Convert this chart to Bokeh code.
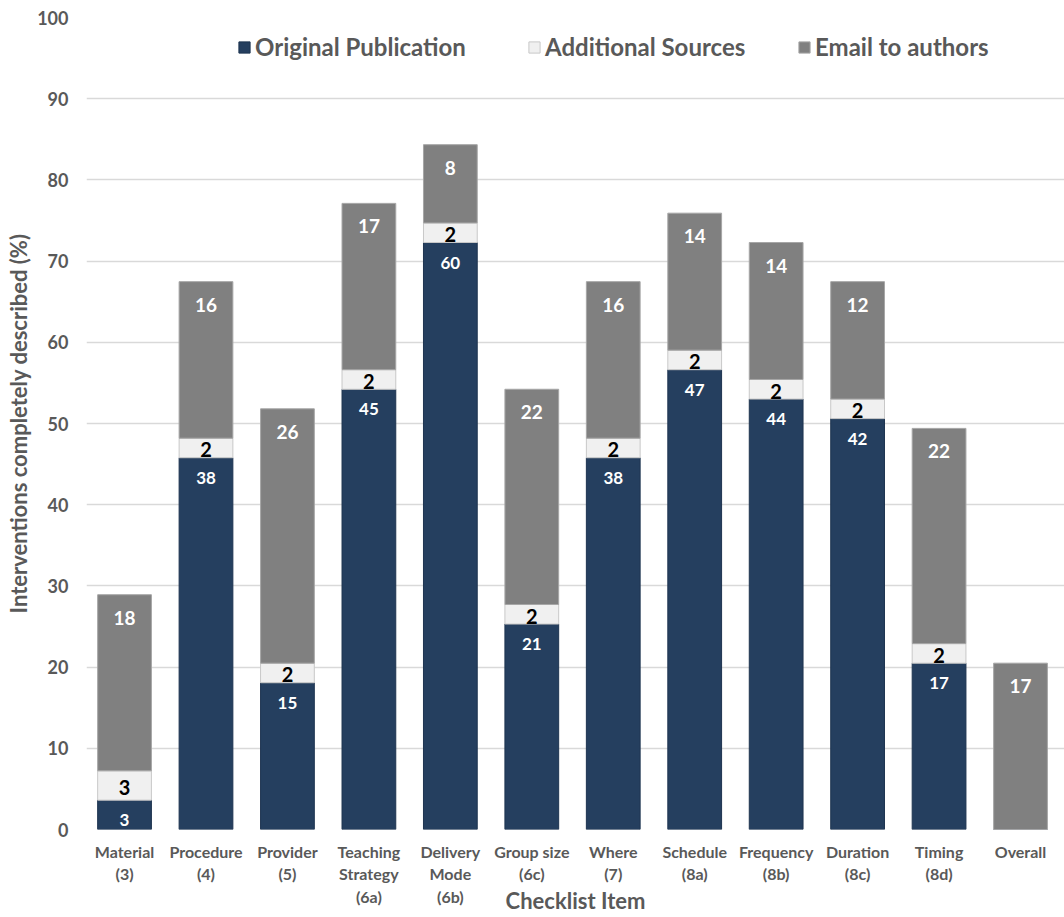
import numpy as np
from bokeh.plotting import figure
from bokeh.models import ColumnDataSource, Range1d, FixedTicker, Legend, LegendItem
from bokeh.core.properties import value
from bokeh.embed import file_html
from bokeh.resources import INLINE

# Checklist items (TIDieR) and number of interventions completely described
categories = ["Material\n(3)", "Procedure\n(4)", "Provider\n(5)", "Teaching\nStrategy\n(6a)",
              "Delivery\nMode\n(6b)", "Group size\n(6c)", "Where\n(7)", "Schedule\n(8a)",
              "Frequency\n(8b)", "Duration\n(8c)", "Timing\n(8d)", "Overall"]
original_publication = [3, 38, 15, 45, 60, 21, 38, 47, 44, 42, 17, 0]
additional_sources = [3, 2, 2, 2, 2, 2, 2, 2, 2, 2, 2, 0]
email_to_authors = [18, 16, 26, 17, 8, 22, 16, 14, 14, 12, 22, 17]
n_interventions = 83
y_ticks = [0, 10, 20, 30, 40, 50, 60, 70, 80, 90, 100]

FONT = "Lato"
TEXT_GREY = "#595959"
NAVY = "#253F5F"
LIGHT = "#F0F0F0"
GREY = "#808080"

x = np.arange(len(categories))
orig = np.array(original_publication, dtype=float)
addl = np.array(additional_sources, dtype=float)
mail = np.array(email_to_authors, dtype=float)

pct = 100.0 / n_interventions
b0 = np.zeros_like(orig)
t0 = orig * pct
t1 = t0 + addl * pct
t2 = t1 + mail * pct

src = ColumnDataSource(dict(x=x, b0=b0, t0=t0, t1=t1, t2=t2,
                            mid1=(t0 + t1) / 2,
                            orig=[str(int(v)) if v else "" for v in orig],
                            addl=[str(int(v)) if v else "" for v in addl],
                            mail=[str(int(v)) if v else "" for v in mail]))

p = figure(width=1064, height=917, output_backend="svg", toolbar_location=None,
           x_range=Range1d(-0.467, 11.54), y_range=Range1d(0, 100),
           min_border_left=86, min_border_right=0, min_border_top=17,
           min_border_bottom=88)
p.outline_line_color = None
p.background_fill_color = "white"
p.border_fill_color = "white"

bw = 0.66
r_orig = p.vbar(x="x", bottom="b0", top="t0", width=bw, source=src,
                fill_color=NAVY, line_color="#1E3450", line_width=1)
r_addl = p.vbar(x="x", bottom="t0", top="t1", width=bw, source=src,
                fill_color=LIGHT, line_color="#C8C8C8", line_width=1)
r_mail = p.vbar(x="x", bottom="t1", top="t2", width=bw, source=src,
                fill_color=GREY, line_color="#A6A6A6", line_width=1)

# segment value labels
p.text(x="x", y="t0", text="orig", source=src, text_align="center",
       text_baseline="middle", y_offset=20, text_color="white",
       text_font=value(FONT), text_font_style="bold", text_font_size="17px")
p.text(x="x", y="mid1", text="addl", source=src, text_align="center",
       text_baseline="middle", y_offset=2, text_color="black",
       text_font=value(FONT), text_font_style="bold", text_font_size="20px")
p.text(x="x", y="t2", text="mail", source=src, text_align="center",
       text_baseline="middle", y_offset=23, text_color="white",
       text_font=value(FONT), text_font_style="bold", text_font_size="19px")

# x axis: multi-line checklist labels, title tucked up beside the last row
p.xaxis.ticker = FixedTicker(ticks=list(x))
p.xaxis.major_label_overrides = {int(i): c for i, c in zip(x, categories)}
p.xaxis.major_label_text_font = FONT
p.xaxis.major_label_text_font_style = "bold"
p.xaxis.major_label_text_font_size = "16px"
p.xaxis.major_label_text_color = TEXT_GREY
p.xaxis.major_label_text_line_height = 1.2
p.xaxis.axis_line_color = None
p.xaxis.major_tick_line_color = None
p.xaxis.minor_tick_line_color = None
p.xaxis.major_tick_out = 0
p.xaxis.major_label_standoff = 12
p.xaxis.axis_label = "Checklist Item"
p.xaxis.axis_label_text_font = FONT
p.xaxis.axis_label_text_font_style = "bold"
p.xaxis.axis_label_text_font_size = "22px"
p.xaxis.axis_label_text_color = TEXT_GREY
p.xaxis.axis_label_standoff = -22

p.yaxis.ticker = FixedTicker(ticks=y_ticks)
p.yaxis.major_label_text_font = FONT
p.yaxis.major_label_text_font_style = "bold"
p.yaxis.major_label_text_font_size = "18px"
p.yaxis.major_label_text_color = TEXT_GREY
p.yaxis.axis_line_color = None
p.yaxis.major_tick_line_color = None
p.yaxis.minor_tick_line_color = None
p.yaxis.major_tick_out = 0
p.yaxis.major_label_standoff = 18
p.yaxis.axis_label = "Interventions completely described (%)"
p.yaxis.axis_label_text_font = FONT
p.yaxis.axis_label_text_font_style = "bold"
p.yaxis.axis_label_text_font_size = "22px"
p.yaxis.axis_label_text_color = TEXT_GREY
p.yaxis.axis_label_standoff = 2

p.xgrid.grid_line_color = None
p.ygrid.grid_line_color = "#D9D9D9"
p.ygrid.grid_line_width = 1.5

# legend, one entry per box so each can be placed along the top
def add_legend(label, renderer, xpos):
    lg = Legend(items=[LegendItem(label=label, renderers=[renderer])],
                location=(xpos, 768), orientation="horizontal",
                glyph_width=14, glyph_height=14, label_standoff=4,
                padding=0, margin=0, spacing=0,
                border_line_color=None, background_fill_alpha=0,
                label_text_font=FONT, label_text_font_style="bold",
                label_text_font_size="24px", label_text_color=TEXT_GREY)
    p.add_layout(lg, "center")

add_legend("Original Publication", r_orig, 151)
add_legend("Additional Sources", r_addl, 441)
add_legend("Email to authors", r_mail, 711)

open("out.html", "w").write(file_html(p, INLINE))
